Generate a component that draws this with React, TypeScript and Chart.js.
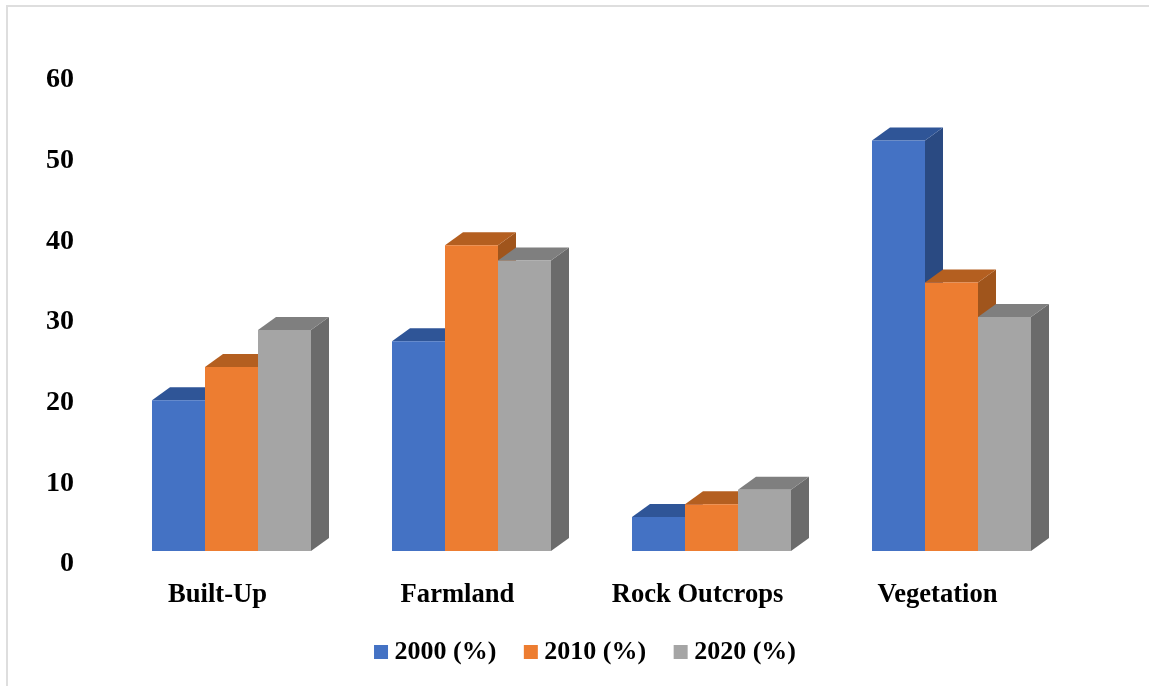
import React, { useEffect, useRef } from "react";
import { Chart, registerables } from "chart.js";

Chart.register(...registerables);

const categories = ["Built-Up", "Farmland", "Rock Outcrops", "Vegetation"];
const series2000 = [18.7, 26.0, 4.2, 50.9];
const series2010 = [22.8, 37.9, 5.8, 33.3];
const series2020 = [27.4, 36.0, 7.6, 29.0];
const seriesNames = ["2000 (%)", "2010 (%)", "2020 (%)"];

const frontColors = ["#4472C4", "#ED7D31", "#A5A5A5"];
const topColors = ["#2F5597", "#B45F20", "#7F7F7F"];
const sideColors = ["#2A4A82", "#A0551C", "#6B6B6B"];

const DEPTH_X = 18;
const DEPTH_Y = 13;
const FONT_FAMILY = "'Liberation Serif', serif";

// Paints the receding top and right faces behind each bar's front rectangle.
const extrusion = {
  id: "extrusion",
  beforeDatasetsDraw(chart: any) {
    const { ctx } = chart;
    chart.data.datasets.forEach((_: unknown, i: number) => {
      chart.getDatasetMeta(i).data.forEach((bar: any) => {
        const left = bar.x - bar.width / 2;
        const right = bar.x + bar.width / 2;
        ctx.fillStyle = sideColors[i];
        ctx.beginPath();
        ctx.moveTo(right, bar.y);
        ctx.lineTo(right + DEPTH_X, bar.y - DEPTH_Y);
        ctx.lineTo(right + DEPTH_X, bar.base - DEPTH_Y);
        ctx.lineTo(right, bar.base);
        ctx.closePath();
        ctx.fill();
        ctx.fillStyle = topColors[i];
        ctx.beginPath();
        ctx.moveTo(left, bar.y);
        ctx.lineTo(left + DEPTH_X, bar.y - DEPTH_Y);
        ctx.lineTo(right + DEPTH_X, bar.y - DEPTH_Y);
        ctx.lineTo(right, bar.y);
        ctx.closePath();
        ctx.fill();
      });
    });
  },
};

// Nudges the legend row right of centre and up into the space below the axis labels.
const legendPlacement = {
  id: "legendPlacement",
  afterLayout(chart: any) {
    chart.legend.left += 52.5;
    chart.legend.right += 52.5;
    chart.legend.top -= 13;
    chart.legend.bottom -= 13;
  },
};

export default function App() {
  const canvasRef = useRef<HTMLCanvasElement>(null);

  useEffect(() => {
    const chart = new Chart(canvasRef.current as HTMLCanvasElement, {
      type: "bar",
      data: {
        labels: categories,
        datasets: [series2000, series2010, series2020].map((values, i) => ({
          label: seriesNames[i],
          data: values,
          backgroundColor: frontColors[i],
          categoryPercentage: 0.6625,
          barPercentage: 1,
        })),
      },
      options: {
        animation: false,
        responsive: false,
        devicePixelRatio: 1,
        layout: { padding: { top: 67, right: 77.5, bottom: 8, left: 0 } },
        plugins: {
          title: { display: false },
          tooltip: { enabled: false },
          legend: {
            position: "bottom",
            maxHeight: 60,
            labels: {
              usePointStyle: true,
              pointStyle: "rect",
              boxWidth: 1,
              boxHeight: 14,
              padding: 34,
              color: "#000000",
              font: { family: FONT_FAMILY, size: 26, weight: "bold" },
            },
          },
        },
        scales: {
          x: {
            grid: { display: false },
            border: { display: false },
            afterFit(scale: any) {
              scale.height = 67;
            },
            ticks: {
              color: "#000000",
              padding: 20,
              labelOffset: -14,
              autoSkip: false,
              maxRotation: 0,
              font: { family: FONT_FAMILY, size: 26.6, weight: "bold" },
            },
          },
          y: {
            min: 0,
            max: 60,
            grid: { display: false },
            border: { display: false },
            afterFit(scale: any) {
              scale.width = 111.5;
            },
            ticks: {
              stepSize: 10,
              color: "#000000",
              padding: 29.5,
              labelOffset: 13,
              font: { family: FONT_FAMILY, size: 28, weight: "bold" },
            },
          },
        },
      },
      plugins: [extrusion, legendPlacement],
    } as any);
    return () => chart.destroy();
  }, []);

  return (
    <div style={{ position: "fixed", inset: 0, width: 1149, height: 686, background: "#ffffff", overflow: "hidden" }}>
      <div
        style={{
          position: "absolute",
          left: 6,
          top: 5,
          right: 0,
          bottom: 0,
          borderLeft: "2px solid #dedede",
          borderTop: "2px solid #dedede",
        }}
      />
      <canvas ref={canvasRef} width={1149} height={686} style={{ position: "absolute", left: 0, top: 0 }} />
    </div>
  );
}
